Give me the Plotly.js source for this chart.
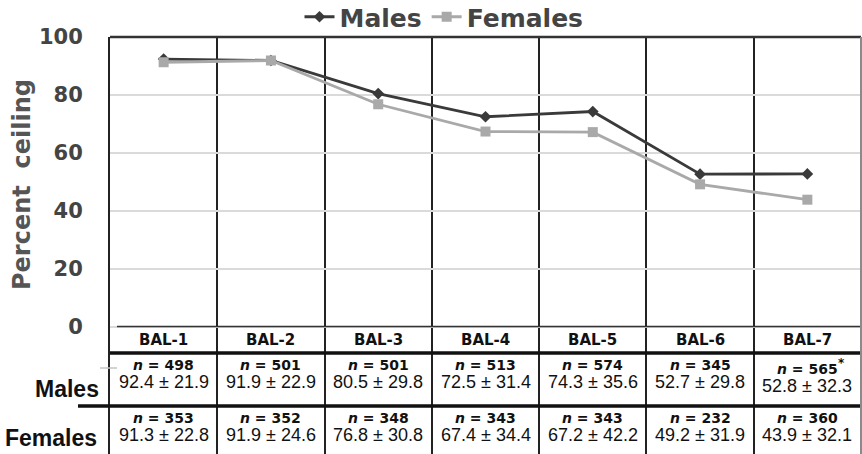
<!DOCTYPE html>
<html>
<head>
<meta charset="utf-8">
<script src="https://cdn.plot.ly/plotly-3.0.1.min.js"></script>
<style>
  html, body { margin: 0; padding: 0; background: #ffffff; }
  #chart { width: 862px; height: 454px; }
</style>
</head>
<body>
<div id="chart"></div>
<script>
// Balance test levels
const categories = ['BAL-1', 'BAL-2', 'BAL-3', 'BAL-4', 'BAL-5', 'BAL-6', 'BAL-7'];

// Males: mean percent ceiling, SD and sample size per level
const malesMean = [92.4, 91.9, 80.5, 72.5, 74.3, 52.7, 52.8];
const malesSD   = [21.9, 22.9, 29.8, 31.4, 35.6, 29.8, 32.3];
const malesN    = [498, 501, 501, 513, 574, 345, 565];
const malesNote = ['', '', '', '', '', '', '*'];

// Females: mean percent ceiling, SD and sample size per level
const femalesMean = [91.3, 91.9, 76.8, 67.4, 67.2, 49.2, 43.9];
const femalesSD   = [22.8, 24.6, 30.8, 34.4, 42.2, 31.9, 32.1];
const femalesN    = [353, 352, 348, 343, 343, 232, 360];
const femalesNote = ['', '', '', '', '', '', ''];

const yTicks = [0, 20, 40, 60, 80, 100];
const yTitle = 'Percent&nbsp;&nbsp;ceiling';

// ---- page geometry (pixels) ----
const W = 862, H = 454;
const M = { l: 110, r: 1, t: 37, b: 0, autoexpand: false };
const plotW = W - M.l - M.r, plotH = H - M.t - M.b;
const px2x = px => (px - M.l) / plotW;          // pixel -> paper x
const py2y = py => (H - M.b - py) / plotH;      // pixel -> paper y
// y axis: 0 sits on the table header line, the rest of the plot area below holds the table
const zeroPx = 327;
const unitPx = (zeroPx - M.t) / 100;
const yMin = -(H - M.b - zeroPx) / unitPx;

const HEAVY = 'DejaVu Sans, Verdana, sans-serif';
const PLAIN = 'Liberation Sans, Arial, sans-serif';
const INK = '#111111';

const traces = [
  {
    name: 'Males',
    x: categories, y: malesMean,
    type: 'scatter', mode: 'lines+markers',
    line: { color: '#3a3a3a', width: 2.8 },
    marker: { symbol: 'diamond', size: 9, color: '#3a3a3a' },
    hoverinfo: 'skip'
  },
  {
    name: 'Females',
    x: categories, y: femalesMean,
    type: 'scatter', mode: 'lines+markers',
    line: { color: '#a9a9a9', width: 2.8 },
    marker: { symbol: 'square', size: 10, color: '#a9a9a9' },
    hoverinfo: 'skip'
  }
];

const annotations = [];
const fmt = (m, s) => m.toFixed(1) + ' \u00b1 ' + s.toFixed(1);
const nText = n => '<b><i>n</i> = ' + n + '</b>';
const cell = (c, py, text, family, size) => ({
  x: c, xref: 'x', xanchor: 'center', y: py2y(py), yref: 'paper', yanchor: 'middle',
  text: text, showarrow: false, font: { family: family, size: size, color: INK }
});
// footnote mark set just after the sample size, raised
const note = (c, py, text) => ({
  x: c, xref: 'x', xanchor: 'left', xshift: 29, y: py2y(py), yref: 'paper', yanchor: 'middle', yshift: 6,
  text: '<b>' + text + '</b>', showarrow: false, font: { family: HEAVY, size: 12, color: INK }
});

categories.forEach((c, i) => {
  const mShift = malesNote[i] ? 4 : 0;
  const fShift = femalesNote[i] ? 4 : 0;
  annotations.push(cell(c, 340, '<b>' + c + '</b>', HEAVY, 15));
  annotations.push(cell(c, 365 + mShift, nText(malesN[i]), HEAVY, 14));
  annotations.push(cell(c, 382 + mShift, fmt(malesMean[i], malesSD[i]), PLAIN, 18));
  if (malesNote[i]) annotations.push(note(c, 365 + mShift, malesNote[i]));
  annotations.push(cell(c, 418 + fShift, nText(femalesN[i]), HEAVY, 14));
  annotations.push(cell(c, 435 + fShift, fmt(femalesMean[i], femalesSD[i]), PLAIN, 18));
  if (femalesNote[i]) annotations.push(note(c, 418 + fShift, femalesNote[i]));
});

// row headers
annotations.push({ x: px2x(101), xref: 'paper', xanchor: 'right', y: py2y(389), yref: 'paper', yanchor: 'middle',
  text: '<b>Males</b>', showarrow: false, font: { family: PLAIN, size: 23, color: INK } });
annotations.push({ x: px2x(99), xref: 'paper', xanchor: 'right', y: py2y(438), yref: 'paper', yanchor: 'middle',
  text: '<b>Females</b>', showarrow: false, font: { family: PLAIN, size: 23, color: INK } });

// vertical axis title
annotations.push({ x: px2x(22), xref: 'paper', xanchor: 'center', y: py2y(185), yref: 'paper', yanchor: 'middle',
  textangle: -90, text: '<b>' + yTitle + '</b>', showarrow: false,
  font: { family: HEAVY, size: 24, color: '#555555' } });

const hline = (x0px, y, color, width) => ({
  type: 'line', xref: 'paper', yref: 'paper',
  x0: x0px === null ? 0 : px2x(x0px), x1: 1, y0: py2y(y), y1: py2y(y),
  line: { color: color, width: width }, layer: 'above'
});

const shapes = [
  hline(null, M.t, '#333333', 2.5),         // top frame
  hline(117, 326.5, '#333333', 1.5),        // header top rule
  hline(null, 353, '#111111', 3.5),         // header bottom rule
  hline(78, 406, '#111111', 3.5),           // rule between rows
  { type: 'line', xref: 'paper', yref: 'paper', x0: px2x(100), x1: px2x(117), y0: py2y(368), y1: py2y(368),
    line: { color: '#c4c4c4', width: 1.5 }, layer: 'above' },
  { type: 'line', xref: 'paper', yref: 'paper', x0: 1, x1: 1, y0: 0, y1: 1,
    line: { color: '#8a8a8a', width: 2 }, layer: 'above' }
];

const layout = {
  width: W, height: H,
  margin: M,
  paper_bgcolor: '#ffffff', plot_bgcolor: '#ffffff',
  showlegend: true,
  legend: {
    orientation: 'h', x: px2x(444), xanchor: 'center', y: py2y(17), yanchor: 'middle',
    font: { family: HEAVY, size: 25, weight: 'bold', color: '#444444' },
    bgcolor: 'rgba(0,0,0,0)', itemwidth: 30, traceorder: 'normal'
  },
  xaxis: {
    type: 'category', categoryarray: categories, range: [-0.5, 6.5],
    tickson: 'boundaries', showgrid: true, gridcolor: '#222222', gridwidth: 2,
    showticklabels: false, ticks: '', zeroline: false, showline: false, fixedrange: true
  },
  yaxis: {
    range: [yMin, 100], tickvals: yTicks, ticktext: yTicks.map(String),
    showgrid: true, gridcolor: '#dadada', gridwidth: 1.5, zeroline: false,
    showline: true, linecolor: '#222222', linewidth: 2,
    ticks: 'outside', ticklen: 21, tickcolor: 'rgba(0,0,0,0)',
    tickfont: { family: HEAVY, size: 21, weight: 'bold', color: '#444444' },
    fixedrange: true
  },
  annotations: annotations,
  shapes: shapes
};

Plotly.newPlot('chart', traces, layout, { displayModeBar: false, staticPlot: true });
</script>
</body>
</html>
